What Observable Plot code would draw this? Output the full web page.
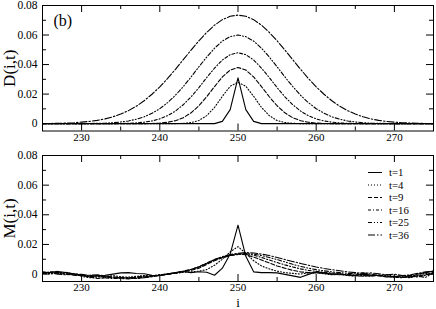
<!DOCTYPE html>
<html><head><meta charset="utf-8">
<script src="https://cdn.jsdelivr.net/npm/d3@7"></script>
<script src="https://cdn.jsdelivr.net/npm/@observablehq/plot@0.6"></script>
<style>
body{margin:0;background:#fff;}
#wrap{position:relative;width:436px;height:309px;font-family:"Liberation Serif",serif;background:#fff;}
#wrap svg{display:block;}
</style></head><body><div id="wrap"></div>
<script>
const iValues = [225,226,227,228,229,230,231,232,233,234,
 235,236,237,238,239,240,241,242,243,244,
 245,246,247,248,249,250,251,252,253,254,
 255,256,257,258,259,260,261,262,263,264,
 265,266,267,268,269,270,271,272,273,274,
 275];
const tLabels = ["t=1","t=4","t=9","t=16","t=25","t=36"];

// top panel D(i,t)
const D_t1 = [0,0,0,0,0,0,0,0,0,0,
 0,0,0,0,0,0,0,0,0,0,
 0,0,0,0.0015,0.0095,0.031,0.0095,0.0015,0,0,
 0,0,0,0,0,0,0,0,0,0,
 0,0,0,0,0,0,0,0,0,0,
 0];
const D_t4 = [0,0,0,0,0,0,0,0,0,0,
 0,0,0,0,0,0,0,0,0.0002,0.0007,
 0.0021,0.0054,0.0110,0.0185,0.0253,0.0280,0.0253,0.0185,0.0110,0.0054,
 0.0021,0.0007,0.0002,0,0,0,0,0,0,0,
 0,0,0,0,0,0,0,0,0,0,
 0];
const D_t9 = [0,0,0,0,0,0,0,0,0,0,
 0,0,0,0,0.0001,0.0004,0.0009,0.0020,0.0040,0.0073,
 0.0121,0.0182,0.0251,0.0316,0.0363,0.0380,0.0363,0.0316,0.0251,0.0182,
 0.0121,0.0073,0.0040,0.0020,0.0009,0.0004,0.0001,0,0,0,
 0,0,0,0,0,0,0,0,0,0,
 0];
const D_t16 = [0,0,0,0,0,0,0,0,0,0,
 0.0001,0.0002,0.0005,0.0010,0.0018,0.0032,0.0054,0.0085,0.0128,0.0181,
 0.0244,0.0312,0.0376,0.0431,0.0467,0.0480,0.0467,0.0431,0.0376,0.0312,
 0.0244,0.0181,0.0128,0.0085,0.0054,0.0032,0.0018,0.0010,0.0005,0.0002,
 0.0001,0,0,0,0,0,0,0,0,0,
 0];
const D_t25 = [0,0,0,0,0,0,0.0001,0.0002,0.0003,0.0006,
 0.0011,0.0018,0.0030,0.0046,0.0070,0.0101,0.0142,0.0192,0.0251,0.0316,
 0.0385,0.0451,0.0511,0.0559,0.0589,0.0600,0.0589,0.0559,0.0511,0.0451,
 0.0385,0.0316,0.0251,0.0192,0.0142,0.0101,0.0070,0.0046,0.0030,0.0018,
 0.0011,0.0006,0.0003,0.0002,0.0001,0,0,0,0,0,
 0];
const D_t36 = [0.0001,0.0001,0.0002,0.0004,0.0006,0.0010,0.0015,0.0022,0.0032,0.0046,
 0.0065,0.0088,0.0118,0.0155,0.0199,0.0249,0.0306,0.0368,0.0433,0.0498,
 0.0561,0.0618,0.0667,0.0704,0.0727,0.0735,0.0727,0.0704,0.0667,0.0618,
 0.0561,0.0498,0.0433,0.0368,0.0306,0.0249,0.0199,0.0155,0.0118,0.0088,
 0.0065,0.0046,0.0032,0.0022,0.0015,0.0010,0.0006,0.0004,0.0002,0.0001,
 0.0001];

// bottom panel M(i,t)
const M_t1 = [0.0010,0.0012,0.0018,0.0010,0.0002,-0.0008,-0.0018,-0.0012,-0.0008,0.0000,
 0.0008,0.0010,0.0004,0.0002,-0.0008,-0.0010,0.0000,0.0010,0.0018,0.0010,
 0.0016,0.0012,-0.0008,0.0040,0.0135,0.0330,0.0120,0.0015,0.0010,0.0010,
 0.0008,-0.0002,-0.0012,-0.0022,-0.0002,0.0015,0.0008,0.0000,0.0002,-0.0008,
 -0.0010,0.0000,-0.0006,-0.0010,-0.0018,-0.0020,-0.0010,-0.0022,0.0000,0.0010,
 0.0020];
const M_t4 = [0.0005,0.0000,0.0008,0.0012,0.0000,-0.0015,-0.0025,-0.0020,-0.0015,-0.0010,
 -0.0018,-0.0020,-0.0015,-0.0010,-0.0012,-0.0005,0.0000,0.0005,0.0012,0.0015,
 0.0020,0.0030,0.0060,0.0100,0.0150,0.0185,0.0140,0.0090,0.0055,0.0035,
 0.0020,0.0010,0.0005,0.0000,0.0008,0.0010,0.0002,-0.0005,-0.0002,-0.0010,
 -0.0015,-0.0008,-0.0012,-0.0005,-0.0015,-0.0022,-0.0018,-0.0025,-0.0010,0.0005,
 0.0000];
const M_t9 = [0.0015,0.0010,0.0005,0.0000,-0.0008,-0.0010,-0.0020,-0.0030,-0.0025,-0.0020,
 -0.0022,-0.0028,-0.0020,-0.0015,-0.0010,-0.0008,0.0000,0.0008,0.0015,0.0025,
 0.0040,0.0065,0.0090,0.0110,0.0125,0.0135,0.0130,0.0115,0.0095,0.0075,
 0.0055,0.0040,0.0025,0.0015,0.0010,0.0008,0.0005,0.0000,-0.0005,-0.0002,
 -0.0010,-0.0015,-0.0008,-0.0012,-0.0020,-0.0015,-0.0022,-0.0018,-0.0012,-0.0005,
 0.0005];
const M_t16 = [0.0008,0.0015,0.0010,0.0002,-0.0005,-0.0012,-0.0008,-0.0015,-0.0025,-0.0030,
 -0.0028,-0.0022,-0.0025,-0.0018,-0.0012,-0.0005,0.0002,0.0010,0.0020,0.0032,
 0.0050,0.0075,0.0098,0.0115,0.0128,0.0135,0.0138,0.0128,0.0112,0.0095,
 0.0078,0.0062,0.0048,0.0035,0.0025,0.0018,0.0012,0.0008,0.0002,-0.0005,
 0.0000,-0.0010,-0.0015,-0.0008,-0.0012,-0.0020,-0.0025,-0.0015,-0.0020,-0.0008,
 0.0012];
const M_t25 = [0.0002,0.0005,0.0012,0.0008,0.0000,-0.0005,-0.0015,-0.0010,-0.0018,-0.0025,
 -0.0030,-0.0032,-0.0028,-0.0022,-0.0015,-0.0008,0.0000,0.0008,0.0018,0.0030,
 0.0048,0.0072,0.0095,0.0112,0.0125,0.0132,0.0138,0.0135,0.0125,0.0112,
 0.0098,0.0082,0.0066,0.0052,0.0040,0.0030,0.0022,0.0015,0.0010,0.0005,
 0.0002,0.0008,0.0000,-0.0010,-0.0005,-0.0015,-0.0012,-0.0008,-0.0015,-0.0022,
 0.0010];
const M_t36 = [0.0012,0.0008,0.0000,-0.0005,0.0002,-0.0002,-0.0008,-0.0005,-0.0012,-0.0020,
 -0.0025,-0.0028,-0.0030,-0.0025,-0.0018,-0.0010,-0.0002,0.0008,0.0018,0.0030,
 0.0048,0.0072,0.0098,0.0118,0.0132,0.0140,0.0145,0.0142,0.0135,0.0125,
 0.0112,0.0098,0.0085,0.0072,0.0060,0.0048,0.0038,0.0030,0.0022,0.0015,
 0.0010,0.0005,0.0008,0.0002,-0.0005,0.0000,-0.0010,-0.0005,0.0005,0.0015,
 0.0020];

const xTicks = [230, 240, 250, 260, 270];
const xMinorTicks = [235, 245, 255, 265];
const yTicks = [0, 0.02, 0.04, 0.06, 0.08];
const yTickLabels = ["0", "0.02", "0.04", "0.06", "0.08"];
const yMinorTicks = [0.01, 0.03, 0.05, 0.07];
const xDomain = [225, 275];
const yDomain = [-0.005, 0.08];
const dashes = ["none", "1,2", "4,2", "3,2,1,2", "4,2,1,2,1,2", "7,2,1.5,2"];

const FONT = '"Liberation Serif", "Times New Roman", serif';

function panel({height, marginTop, marginBottom, xPad, series, ylabel, extraMarks}) {
  const W = 436, mL = 42, mR = 3;
  const innerH = height - marginTop - marginBottom;
  const innerW = W - mL - mR;
  const maj = 7, mnr = 4;
  const lines = series.map((arr, k) => Plot.line(
    iValues.map((i, j) => ({i, v: arr[j]})),
    {x: "i", y: "v", stroke: "black", strokeWidth: 1.1, strokeDasharray: dashes[k]}
  ));
  return Plot.plot({
    width: W, height, marginLeft: mL, marginRight: mR, marginTop, marginBottom,
    x: {domain: xDomain},
    y: {domain: yDomain},
    style: {fontFamily: FONT, color: "black", background: "white"},
    marks: [
      ...lines,
      Plot.tickX(xTicks, {x: d => d, insetTop: innerH - maj, stroke: "black"}),
      Plot.tickX(xTicks, {x: d => d, insetBottom: innerH - maj, stroke: "black"}),
      Plot.tickX(xMinorTicks, {x: d => d, insetTop: innerH - mnr, stroke: "black"}),
      Plot.tickX(xMinorTicks, {x: d => d, insetBottom: innerH - mnr, stroke: "black"}),
      Plot.tickY(yTicks, {y: d => d, insetRight: innerW - maj, stroke: "black"}),
      Plot.tickY(yTicks, {y: d => d, insetLeft: innerW - maj, stroke: "black"}),
      Plot.tickY(yMinorTicks, {y: d => d, insetRight: innerW - mnr, stroke: "black"}),
      Plot.tickY(yMinorTicks, {y: d => d, insetLeft: innerW - mnr, stroke: "black"}),
      Plot.frame({stroke: "black", strokeWidth: 1}),
      Plot.axisX({ticks: xTicks, tickSize: 0, tickPadding: xPad, fontSize: 11, label: null, tickFormat: d => String(d)}),
      Plot.axisY({ticks: yTicks, tickSize: 0, tickPadding: 5, fontSize: 11.5, label: null,
        tickFormat: d => yTickLabels[yTicks.indexOf(d)]}),
      Plot.text([ylabel], {frameAnchor: "left", text: d => d, rotate: -90, dx: -33, fontSize: 17,
        textAnchor: "middle", lineAnchor: "middle", fill: "black"}),
      ...(extraMarks || [])
    ]
  });
}

const wrap = document.getElementById("wrap");

const topPanel = panel({
  height: 150, marginTop: 5, marginBottom: 19.5, xPad: 2.5,
  series: [D_t1, D_t4, D_t9, D_t16, D_t25, D_t36],
  ylabel: "D(i,t)",
  extraMarks: [Plot.text(["(b)"], {frameAnchor: "top-left", text: d => d, dx: 11, dy: 9, fontSize: 16,
    textAnchor: "start", lineAnchor: "top", fill: "black"})]
});
wrap.appendChild(topPanel);

const bottomPanel = panel({
  height: 159, marginTop: 5, marginBottom: 28, xPad: 1.4,
  series: [M_t1, M_t4, M_t9, M_t16, M_t25, M_t36],
  ylabel: "M(i,t)",
  extraMarks: [Plot.text(["i"], {frameAnchor: "bottom", text: d => d, dy: 16, fontSize: 13,
    textAnchor: "middle", lineAnchor: "top", fill: "black"})]
});
wrap.appendChild(bottomPanel);

// legend (inside lower panel, upper right)
const leg = d3.create("svg")
  .attr("width", 70).attr("height", 84)
  .style("position", "absolute").style("left", "366px").style("top", "165px")
  .style("font-family", FONT);
tLabels.forEach((lab, k) => {
  const y = 7.5 + k * 12.5;
  leg.append("line").attr("x1", 2).attr("x2", 16).attr("y1", y).attr("y2", y)
    .attr("stroke", "black").attr("stroke-width", 1)
    .attr("stroke-dasharray", dashes[k]);
  leg.append("text").attr("x", 23).attr("y", y).attr("dy", "0.35em")
    .attr("font-size", 10.8).attr("fill", "black").text(lab);
});
wrap.appendChild(leg.node());
</script></body></html>
